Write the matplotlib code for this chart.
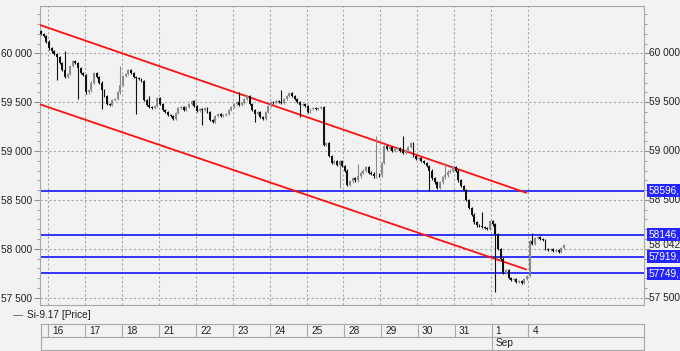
#!/usr/bin/env python
import numpy as np
import matplotlib
matplotlib.use("Agg")
import matplotlib.pyplot as plt
import matplotlib.transforms as mtransforms

plt.rcParams['font.family'] = ['Liberation Sans', 'DejaVu Sans']

# hourly closes, 14 bars per session (first list = tail of the 15th)
day15 = [60200, 60180, 60120]
day16 = [60050, 60020, 59990, 59960, 59900, 59830, 59760, 59790, 59870, 59920, 59900, 59850, 59800, 59780]
day17 = [59600, 59620, 59700, 59800, 59760, 59700, 59620, 59560, 59480, 59470, 59520, 59530, 59600, 59680]
day18 = [59770, 59790, 59830, 59800, 59760, 59750, 59740, 59720, 59520, 59470, 59450, 59440, 59460, 59540]
day21 = [59480, 59420, 59400, 59370, 59360, 59330, 59390, 59440, 59450, 59420, 59450, 59480, 59510, 59460]
day22 = [59410, 59430, 59420, 59440, 59400, 59320, 59300, 59360, 59380, 59360, 59370, 59380, 59420, 59450]
day23 = [59480, 59500, 59470, 59490, 59530, 59560, 59480, 59420, 59380, 59400, 59350, 59330, 59400, 59460]
day24 = [59500, 59490, 59510, 59500, 59490, 59530, 59560, 59590, 59560, 59530, 59500, 59470, 59480, 59460]
day25 = [59400, 59430, 59440, 59430, 59440, 59450, 59060, 59080, 58950, 58880, 58900, 58860, 58900, 58850]
day28 = [58800, 58650, 58690, 58720, 58700, 58740, 58780, 58800, 58840, 58780, 58770, 58740, 58760, 58750]
day29 = [58880, 59050, 59020, 59040, 59000, 59020, 59030, 59000, 58980, 59010, 59040, 59080, 58950, 58920]
day30 = [58930, 58900, 58880, 58850, 58800, 58720, 58680, 58620, 58680, 58730, 58750, 58790, 58800, 58840]
day31 = [58800, 58700, 58640, 58600, 58500, 58420, 58350, 58270, 58240, 58230, 58220, 58210, 58200, 58280]
day01 = [58250, 58150, 58000, 57900, 57750, 57780, 57700, 57680, 57690, 57660, 57670, 57650, 57690, 57720]
day04 = [58080, 58050, 58110, 58120, 58100, 58090, 58000, 57990, 58000, 57980, 57990, 57970, 58010, 58042]
first_open = 60230

# wicks that stick out well past the bodies (bar index: price)
spike_high = {9: 60020, 30: 59870, 41: 59560, 75: 59600, 91: 59620, 120: 58870,
              127: 59150, 137: 59150, 153: 58880, 167: 58380, 186: 58160}
spike_low = {6: 59730, 14: 59530, 23: 59430, 36: 59380, 61: 59270, 81: 59300,
             98: 59350, 113: 58620, 147: 58590, 172: 57560}

day_labels = ['16', '17', '18', '21', '22', '23', '24', '25', '28', '29', '30', '31', '1', '4']
month_label = 'Sep'
month_day = '1'

levels = [58596, 58146, 57919, 57749]
last_price = 58042

# channel lines: (bar index, price) at both ends
chan_x = [-3.42, 180.6]
chan_upper = [60290, 58574]
chan_lower = [59478, 57790]

left_ticks = [60000, 59500, 59000, 58500, 58000, 57500]
right_ticks = [60000, 59500, 59000, 58500, 57500]

closes = np.array(day15 + day16 + day17 + day18 + day21 + day22 + day23 + day24 +
                  day25 + day28 + day29 + day30 + day31 + day01 + day04, dtype=float)
idx = np.arange(len(closes)) - len(day15)
opens = np.concatenate([[first_open], closes[:-1]])

bg = '#f2f2f2'
grey = '#a8a8a8'
blue = '#2424ff'

fig = plt.figure(figsize=(6.8, 3.51), dpi=100, facecolor=bg)
ax = fig.add_axes([40 / 680, 1 - 305 / 351, 604 / 680, 299 / 351], facecolor=bg)
ax.set_xlim(-3.42, 225.3)
ax.set_ylim(57425, 60484)

for k in range(len(day_labels)):
    ax.axvline(14 * k - 0.5, color=grey, lw=0.8, ls=(0, (2, 2)), zorder=1)
for v in np.arange(57500, 60001, 500):
    ax.axhline(v, color=grey, lw=0.8, ls=(0, (2, 2)), zorder=1)

for lv in levels:
    ax.axhline(lv, color=blue, lw=1.3, zorder=2)

ax.plot(chan_x, chan_upper, color='#ff1010', lw=1.3, zorder=3)
ax.plot(chan_x, chan_lower, color='#ff1010', lw=1.3, zorder=3)

# candles
pad = 12
for i, o, c in zip(idx, opens, closes):
    k = i + len(day15)
    hi = spike_high.get(k, max(o, c) + pad)
    lo = spike_low.get(k, min(o, c) - pad)
    col = '#8a8a8a' if c >= o else '#111111'
    ax.vlines(i, lo, hi, color=col, lw=0.8, zorder=4)
    h = max(abs(c - o), 8)
    ax.bar(i, h, bottom=min(o, c), width=0.72, color=col, lw=0, zorder=5)

for s in ax.spines.values():
    s.set_color(grey)
ax.set_xticks([])
ax.set_yticks(left_ticks)
ax.set_yticklabels(['{:,}'.format(v).replace(',', ' ') for v in left_ticks],
                   fontsize=7.3, color='#202020')
ax.set_yticks(np.arange(57500, 60401, 100), minor=True)
ax.tick_params(axis='y', which='both', left=True, right=True, direction='out',
               color='#909090', labelleft=True, labelright=False, pad=2)
ax.tick_params(axis='y', which='major', length=4)
ax.tick_params(axis='y', which='minor', length=2)

trans = mtransforms.blended_transform_factory(ax.transAxes, ax.transData)
xr = 1 + 5 / 604
for v in right_ticks:
    ax.text(xr, v, '{:,}'.format(v).replace(',', ' '), transform=trans, fontsize=7.3,
            color='#202020', va='center', ha='left', clip_on=False)
ax.text(xr, last_price, '{:,}'.format(last_price).replace(',', ' '), transform=trans,
        fontsize=7.3, color='#202020', va='center', ha='left', clip_on=False)
for lv in levels:
    ax.text(xr, lv, '{},'.format(lv), transform=trans, fontsize=7.3, color='white',
            va='center', ha='left', clip_on=False,
            bbox=dict(boxstyle='square,pad=0.15', fc=blue, ec='none'))

# legend line
fig.text(13 / 680, 1 - 315 / 351, '\u2014', fontsize=7.3, color='#505050', va='center')
fig.text(27 / 680, 1 - 315 / 351, 'Si-9.17 [Price]', fontsize=7.3, color='#202020', va='center')

# date axis
ax2 = fig.add_axes([40.7 / 680, 1 - 350 / 351, 603.3 / 680, 26 / 351], facecolor=bg)
ax2.set_xlim(-3.42, 225.3)
ax2.set_ylim(0, 2)
ax2.set_xticks([])
ax2.set_yticks([])
for s in ax2.spines.values():
    s.set_color(grey)
ax2.axhline(1, color=grey, lw=0.8)
for k, lab in enumerate(day_labels):
    g = 14 * k - 0.5
    ax2.vlines(g, 1, 2, color=grey, lw=0.8)
    ax2.text(g + 1.6, 1.5, lab, fontsize=7.3, color='#202020', va='center', ha='left')
    if lab == month_day:
        ax2.vlines(g, 0, 1, color=grey, lw=0.8)
        ax2.text(g + 1.6, 0.5, month_label, fontsize=7.3, color='#202020', va='center', ha='left')

fig.savefig('out.png', dpi=100, facecolor=bg)
